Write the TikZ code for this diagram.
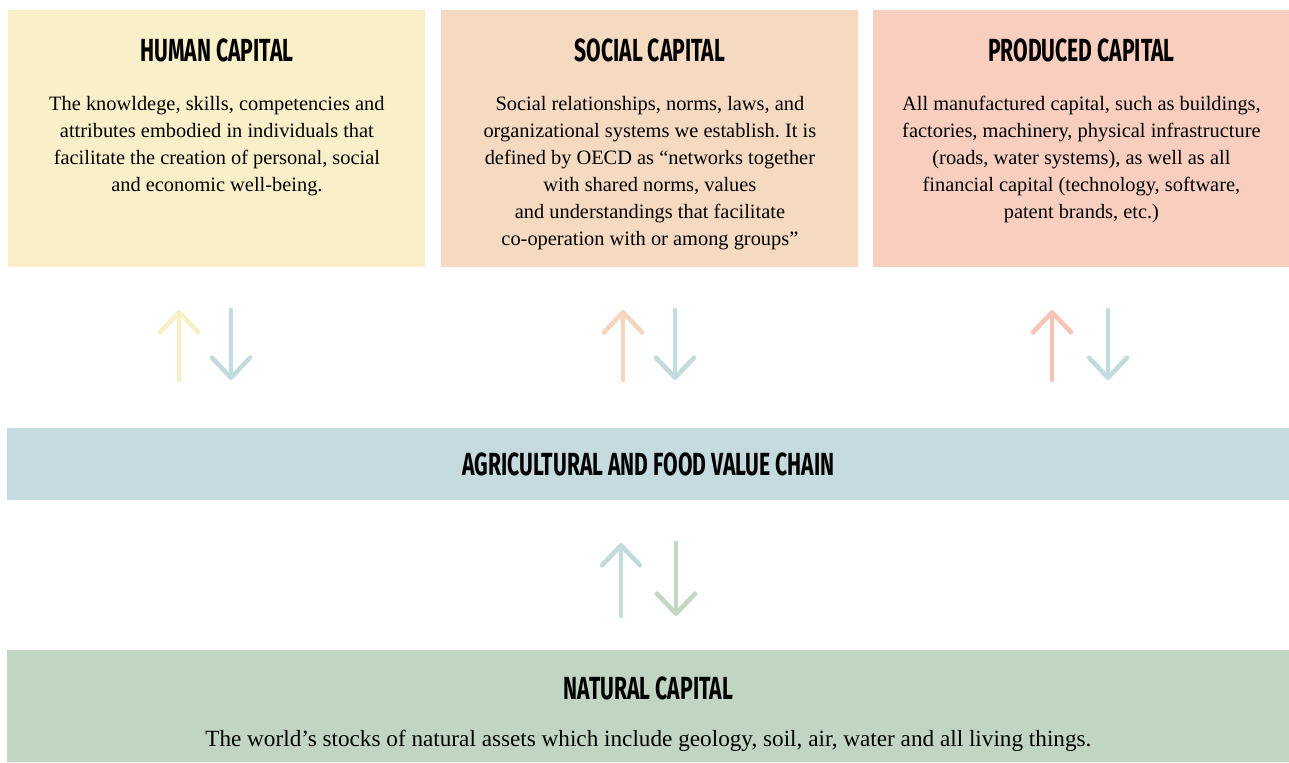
\documentclass[tikz,border=0pt]{standalone}
\usepackage{fontspec}
\setmainfont{Liberation Serif}
\newfontfamily\capfont[FakeStretch=0.66]{Fira Sans}
\usetikzlibrary{arrows.meta,positioning}
\frenchspacing

\definecolor{humanc}{HTML}{F9EFC8}
\definecolor{socialc}{HTML}{F5D9C1}
\definecolor{producedc}{HTML}{F8CFBF}
\definecolor{chainc}{HTML}{C5DBDF}
\definecolor{naturalc}{HTML}{C1D6C2}
\definecolor{upyellow}{HTML}{F7EFC5}
\definecolor{upbeige}{HTML}{F5D5BD}
\definecolor{upsalmon}{HTML}{F6C4B5}
\definecolor{flowblue}{HTML}{C2DBDD}
\definecolor{flowgreen}{HTML}{C3D8C3}

\tikzset{
	capbox/.style={rectangle, inner sep=0pt, anchor=north west},
	captitle/.style={font=\capfont\bfseries\fontsize{16}{18}\selectfont, inner sep=0pt},
	captext/.style={font=\fontsize{10.2}{13.5}\selectfont, align=center, inner sep=0pt, anchor=north},
	flow/.style={line width=2.3pt, line cap=round, -{Straight Barb[round,length=10pt,width=19pt]}},
}

\begin{document}
\begin{tikzpicture}[x=0.5pt,y=-0.5pt]
		\useasboundingbox (0,0) rectangle (1289,762);
		% the three capitals on top
		\node[capbox, fill=humanc, minimum width=208.5pt, minimum height=128.5pt] (human) at (8,10) {};
		\node[capbox, fill=socialc, minimum width=208.5pt, minimum height=128.5pt] (social) at (441,10) {};
		\node[capbox, fill=producedc, minimum width=208pt, minimum height=128.5pt] (produced) at (873,10) {};
		\node[captitle] (humant) at ([yshift=-20pt]human.north) {HUMAN CAPITAL};
		\node[captitle] (socialt) at ([yshift=-20pt]social.north) {SOCIAL CAPITAL};
		\node[captitle] (producedt) at ([yshift=-20pt]produced.north) {PRODUCED CAPITAL};
		\node[captext] (humanx) at ([yshift=-43pt]human.north) {The knowldege, skills, competencies and\\attributes embodied in individuals that\\facilitate the creation of personal, social\\and economic well-being.};
		\node[captext] (socialx) at ([yshift=-43pt]social.north) {Social relationships, norms, laws, and\\organizational systems we establish. It is\\defined by OECD as “networks together\\with shared norms, values\\and understandings that facilitate\\co-operation with or among groups”};
		\node[captext] (producedx) at ([yshift=-43pt]produced.north) {All manufactured capital, such as buildings,\\factories, machinery, physical infrastructure\\(roads, water systems), as well as all\\financial capital (technology, software,\\patent brands, etc.)};
		% value chain and natural capital
		\node[capbox, fill=chainc, minimum width=641pt, minimum height=36pt] (chain) at (7,428) {};
		\node[captitle] (chaint) at (chain.center) {AGRICULTURAL AND FOOD VALUE CHAIN};
		\node[capbox, fill=naturalc, minimum width=641pt, minimum height=56pt] (natural) at (7,650) {};
		\node[captitle] (naturalt) at ([yshift=-19pt]natural.north) {NATURAL CAPITAL};
		\node[captext, anchor=center, font=\fontsize{11.6}{14}\selectfont] (naturalx) at ([yshift=-45.5pt]natural.north) {The world’s stocks of natural assets which include geology, soil, air, water and all living things.};
		% arrow ends
		\coordinate (h1) at (179,380);
		\coordinate (h2) at (179,310);
		\coordinate (h3) at (231,310);
		\coordinate (h4) at (231,380);
		\coordinate (s1) at (623,380);
		\coordinate (s2) at (623,310);
		\coordinate (s3) at (675,310);
		\coordinate (s4) at (675,380);
		\coordinate (p1) at (1052,380);
		\coordinate (p2) at (1052,310);
		\coordinate (p3) at (1108,310);
		\coordinate (p4) at (1108,380);
		\coordinate (n1) at (621,616);
		\coordinate (n2) at (621,543);
		\coordinate (n3) at (676,543);
		\coordinate (n4) at (676,616);
		\draw[flow, upyellow] (h1)--(h2);
		\draw[flow, flowblue] (h3)--(h4);
		\draw[flow, upbeige] (s1)--(s2);
		\draw[flow, flowblue] (s3)--(s4);
		\draw[flow, upsalmon] (p1)--(p2);
		\draw[flow, flowblue] (p3)--(p4);
		\draw[flow, flowblue] (n1)--(n2);
		\draw[flow, flowgreen] (n3)--(n4);
\end{tikzpicture}
\end{document}
